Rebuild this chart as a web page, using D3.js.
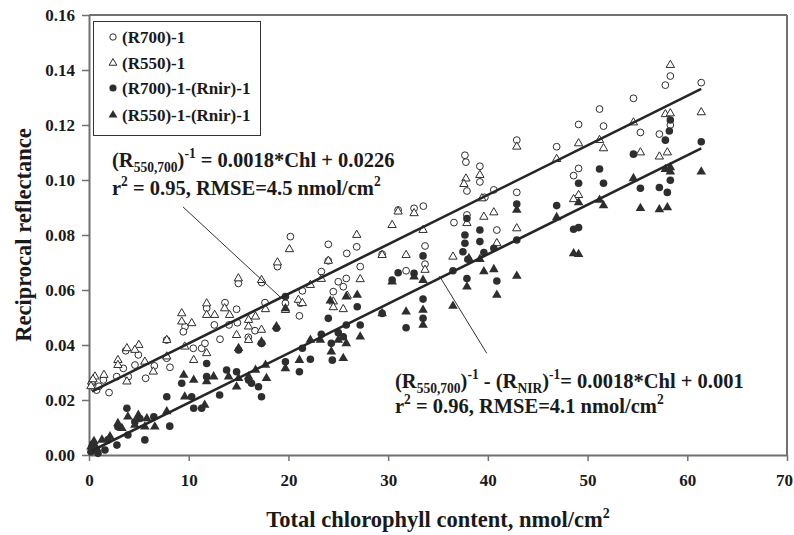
<!DOCTYPE html>
<html><head><meta charset="utf-8">
<script src="https://cdn.jsdelivr.net/npm/d3@7"></script>
<style>
body{margin:0;background:#fff;}
svg{display:block;}
text{font-family:"Liberation Serif","Times New Roman",serif;font-weight:bold;fill:#1a1a1a;}
</style></head><body>
<svg id="chart" width="794" height="535"></svg>
<script>
// ---- data (Chl nmol/cm2, reciprocal reflectance) ----
const r700 = [[14.98,0.0624],[17.32,0.0627],[13.64,0.0554],[14.8,0.0530],[12.57,0.0473],[9.63,0.0467],[9.46,0.0448],[10.46,0.0388],[11.3,0.0388],[13.14,0.0421],[14.04,0.0473],[14.88,0.0481],[16.65,0.0452],[15.98,0.0428],[17.32,0.0406],[17.65,0.0554],[7.79,0.0418],[7.79,0.0352],[8.12,0.0319],[4.95,0.0364],[4.61,0.0327],[5.68,0.0279],[6.55,0.0324],[3.68,0.0379],[2.01,0.0227],[0.77,0.0236],[0.27,0.0255],[1.44,0.0273],[2.78,0.0285],[3.94,0.0285],[3.44,0.0315],[11.63,0.0406],[18.9,0.0685],[11.8,0.0534],[0.5,0.0245],[0.3,0.0262],[1.0,0.0250],
[33.53,0.0905],[32.6,0.0897],[31.0,0.0891],[20.2,0.0794],[24.0,0.0766],[26.85,0.0757],[25.85,0.0733],[27.2,0.0685],[24.0,0.0706],[23.3,0.0667],[21.4,0.0597],[25.0,0.0630],[25.5,0.0612],[24.5,0.0594],[25.8,0.0642],[21.2,0.0552],[21.1,0.0506],[19.7,0.0552],[29.4,0.0730],[31.8,0.0670],[33.7,0.0694],[33.7,0.0760],[36.6,0.0845],[37.9,0.0873],[37.7,0.1090],[37.8,0.1065],[37.9,0.0960],
[58.3,0.1378],[57.8,0.1345],[61.4,0.1354],[54.6,0.1297],[51.2,0.1258],[49.1,0.1202],[51.6,0.1196],[42.9,0.1145],[46.9,0.1121],[55.3,0.1173],[57.2,0.1167],[58.3,0.1200],[39.2,0.1050],[39.2,0.0993],[39.7,0.0937],[40.6,0.0964],[42.9,0.0955],[49.1,0.1042],[48.6,0.1016],[40.9,0.0818]];
const r550 = [[11.8,0.0551],[11.8,0.0509],[9.3,0.0515],[9.3,0.0485],[10.3,0.0479],[13.6,0.0533],[12.6,0.0509],[14.1,0.0509],[16.0,0.0491],[16.7,0.0503],[16.0,0.0467],[17.3,0.0455],[17.7,0.0530],[7.8,0.0418],[7.8,0.0358],[5.0,0.0400],[4.6,0.0382],[3.8,0.0388],[2.9,0.0345],[2.9,0.0327],[5.6,0.0339],[6.45,0.0303],[1.5,0.0291],[0.6,0.0285],[0.27,0.0267],[3.8,0.0267],[9.6,0.0394],[10.5,0.0345],[11.8,0.0370],[14.8,0.0436],[16.0,0.0418],[18.9,0.0700],[14.98,0.0642],[17.3,0.0636],[0.4,0.0275],[0.2,0.0250],
[20.1,0.0748],[26.85,0.0800],[31.0,0.0885],[32.6,0.0879],[30.4,0.0836],[33.5,0.0818],[24.0,0.0706],[23.3,0.0640],[22.2,0.0618],[21.0,0.0564],[21.4,0.0552],[24.5,0.0558],[27.2,0.0639],[25.9,0.0579],[25.5,0.0530],[24.5,0.0537],[29.4,0.0727],[31.8,0.0727],[33.7,0.0673],[36.5,0.0721],[37.9,0.0843],[19.7,0.0527],[37.8,0.1005],[37.6,0.0985],
[58.3,0.1418],[42.9,0.1121],[57.8,0.1239],[58.3,0.1242],[61.4,0.1246],[54.6,0.1209],[49.1,0.1133],[51.2,0.1145],[51.6,0.1115],[46.9,0.1076],[55.3,0.1100],[57.2,0.1085],[58.0,0.1100],[49.1,0.0945],[48.6,0.0930],[39.6,0.0866],[40.6,0.0882],[42.9,0.0824],[39.4,0.0933],[40.9,0.0770],[39.2,0.1018]];
const r700nir = [[18.8,0.0461],[15.0,0.0382],[17.3,0.0406],[11.8,0.0333],[13.8,0.0309],[14.8,0.0303],[16.0,0.0273],[16.3,0.0261],[17.0,0.0248],[17.3,0.0212],[9.3,0.0261],[11.8,0.0285],[10.3,0.0212],[13.1,0.0218],[11.3,0.0170],[10.5,0.0170],[7.8,0.0212],[3.8,0.0170],[4.6,0.0121],[5.1,0.0133],[6.5,0.0139],[8.1,0.0105],[5.6,0.0055],[2.9,0.0103],[3.9,0.0073],[1.9,0.0055],[2.8,0.0036],[0.3,0.0030],[0.6,0.0018],[0.9,0.0006],[1.6,0.0018],[0.2,0.0012],[0.4,0.0040],[0.5,0.0025],
[19.7,0.0576],[26.9,0.0539],[24.0,0.0497],[25.8,0.0473],[27.2,0.0473],[25.0,0.0445],[25.5,0.0430],[23.3,0.0439],[24.3,0.0406],[21.4,0.0388],[22.2,0.0348],[21.1,0.0303],[19.7,0.0339],[24.4,0.0345],[29.4,0.0515],[30.4,0.0636],[31.0,0.0663],[32.6,0.0661],[33.5,0.0724],[33.5,0.0567],[33.5,0.0497],[31.8,0.0463],[36.5,0.0670],[37.7,0.0800],[37.7,0.0770],[37.9,0.0642],[38.0,0.0712],[37.5,0.0739],[37.9,0.0860],
[61.4,0.1139],[57.8,0.1145],[58.2,0.1178],[58.3,0.1218],[54.6,0.1094],[55.3,0.0970],[57.2,0.0973],[58.0,0.0955],[58.3,0.0999],[51.2,0.1040],[51.6,0.0988],[49.1,0.0988],[46.9,0.0907],[42.9,0.0913],[42.9,0.0782],[48.6,0.0821],[49.1,0.0827],[40.9,0.0633],[40.6,0.0752],[39.6,0.0736],[39.2,0.0818],[39.2,0.0776]];
const r550nir = [[15.0,0.0388],[17.3,0.0412],[18.8,0.0467],[9.5,0.0291],[10.5,0.0273],[11.8,0.0267],[12.5,0.0285],[14.0,0.0285],[15.0,0.0279],[14.8,0.0248],[16.0,0.0285],[16.7,0.0309],[17.7,0.0327],[17.8,0.0279],[9.6,0.0212],[11.6,0.0182],[7.8,0.0158],[4.95,0.0145],[5.8,0.0133],[5.6,0.0103],[6.6,0.0103],[2.9,0.0115],[3.3,0.0097],[2.1,0.0067],[1.3,0.0055],[0.4,0.0042],[0.27,0.0018],[0.77,0.0024],[3.9,0.0139],[4.6,0.0109],[0.5,0.0050],[0.2,0.0030],
[19.7,0.0533],[24.2,0.0561],[26.9,0.0582],[25.8,0.0576],[27.2,0.0430],[25.8,0.0406],[25.0,0.0418],[23.2,0.0418],[25.5,0.0352],[24.3,0.0376],[21.1,0.0345],[19.7,0.0315],[22.2,0.0418],[29.4,0.0515],[30.4,0.0630],[31.8,0.0521],[33.5,0.0527],[33.5,0.0473],[33.5,0.0636],[32.6,0.0648],[36.5,0.0542],[37.9,0.0612],[38.1,0.0715],
[61.4,0.1030],[57.8,0.1039],[58.3,0.1046],[58.3,0.1030],[54.6,0.1006],[55.3,0.0897],[57.2,0.0893],[58.0,0.0900],[51.2,0.0927],[51.6,0.0907],[49.1,0.0918],[46.9,0.0864],[42.9,0.0891],[42.9,0.0651],[48.6,0.0733],[49.1,0.0730],[40.9,0.0582],[40.6,0.0675],[39.6,0.0667],[39.2,0.0712]];

const xTicks = [0,10,20,30,40,50,60,70];
const yTicks = [0,0.02,0.04,0.06,0.08,0.10,0.12,0.14,0.16];
const legendLabels = ["(R700)-1","(R550)-1","(R700)-1-(Rnir)-1","(R550)-1-(Rnir)-1"];
const fitSlopes = [0.0018, 0.0018];
const fitIntercepts = [0.0226, 0.001];
const fitRange = [0.3, 61.4];
// leader lines (data units): [x1,y1,x2,y2]
const leaders = [[9.43,0.0902,19.16,0.0575],[35.14,0.0651,39.89,0.0370]];

// ---- chart ----
const svg = d3.select("#chart");
const x = d3.scaleLinear().domain([0,70]).range([89,787]);
const y = d3.scaleLinear().domain([0,0.16]).range([455,15]);
const axisColor = "#707070";
const ink = "#2e2e2e";

// frame top & right
svg.append("line").attr("x1",x(0)).attr("x2",x(70)).attr("y1",y(0.16)).attr("y2",y(0.16)).attr("stroke",axisColor).attr("stroke-width",2);
svg.append("line").attr("x1",x(70)).attr("x2",x(70)).attr("y1",y(0.16)).attr("y2",y(0)).attr("stroke",axisColor).attr("stroke-width",2);

const gx = svg.append("g").attr("transform",`translate(0,${y(0)})`)
  .call(d3.axisBottom(x).tickValues(xTicks).tickFormat(d3.format("d")).tickSize(6).tickSizeOuter(0).tickPadding(13));
const gy = svg.append("g").attr("transform",`translate(${x(0)},0)`)
  .call(d3.axisLeft(y).tickValues(yTicks).tickFormat(d3.format(".2f")).tickSize(7).tickSizeOuter(0).tickPadding(7));
[gx,gy].forEach(g=>{
  g.select(".domain").attr("stroke",axisColor).attr("stroke-width",2);
  g.selectAll(".tick line").attr("stroke",axisColor).attr("stroke-width",1.5);
  g.selectAll(".tick text").attr("font-size",17).attr("font-family","Liberation Serif").attr("font-weight","bold").attr("fill","#1a1a1a");
});
// keep the last x label inside the page edge
gx.selectAll(".tick text").filter(d=>d===70).attr("dx",-3);

// axis titles
svg.append("text").attr("transform",`translate(31,${(y(0)+y(0.16))/2}) rotate(-90)`)
  .attr("text-anchor","middle").attr("font-size",22.5).text("Reciprocal reflectance");
const xt = svg.append("text").attr("x",(x(0)+x(70))/2).attr("y",527).attr("text-anchor","middle").attr("font-size",22.5);
xt.append("tspan").text("Total chlorophyll content, nmol/cm");
xt.append("tspan").attr("font-size",14).attr("dy",-9).text("2");

// points
const g = svg.append("g");
const tri = d3.symbol(d3.symbolTriangle, 30);
g.selectAll(".oc").data(r700).join("circle").attr("cx",d=>x(d[0])).attr("cy",d=>y(d[1])).attr("r",3.4)
  .attr("fill","#fff").attr("stroke",ink).attr("stroke-width",1);
g.selectAll(".ot").data(r550).join("path").attr("d",tri).attr("transform",d=>`translate(${x(d[0])},${y(d[1])})`)
  .attr("fill","#fff").attr("stroke",ink).attr("stroke-width",1);
g.selectAll(".fc").data(r700nir).join("circle").attr("cx",d=>x(d[0])).attr("cy",d=>y(d[1])).attr("r",3.8)
  .attr("fill",ink);
g.selectAll(".ft").data(r550nir).join("path").attr("d",d3.symbol(d3.symbolTriangle, 40)).attr("transform",d=>`translate(${x(d[0])},${y(d[1])})`)
  .attr("fill",ink);

// regression lines
fitSlopes.forEach((s,i)=>{
  const b = fitIntercepts[i];
  svg.append("path").datum(fitRange.map(v=>[v, s*v+b]))
    .attr("d", d3.line().x(d=>x(d[0])).y(d=>y(d[1])))
    .attr("stroke","#262626").attr("stroke-width",2.6).attr("fill","none");
});
leaders.forEach(l=>{
  svg.append("line").attr("x1",x(l[0])).attr("y1",y(l[1])).attr("x2",x(l[2])).attr("y2",y(l[3]))
    .attr("stroke","#333").attr("stroke-width",1);
});

// annotation helper: segments [text, type] type: n, sub, sup
function rich(xp, yp, segs, fs){
  const t = svg.append("text").attr("x",xp).attr("y",yp).attr("font-size",fs);
  let shift = 0;
  segs.forEach(([s,type])=>{
    const target = type==="sub" ? 5 : type==="sup" ? -9 : 0;
    const ts = t.append("tspan").attr("dy", target-shift).text(s);
    if(type!=="n") ts.attr("font-size", fs*0.66);
    shift = target;
  });
  return t;
}
const AF = 20.5;
rich(112,167,[["(R","n"],["550,700","sub"],[")","n"],["-1","sup"],[" = 0.0018*Chl + 0.0226","n"]],AF);
rich(112,195,[["r","n"],["2","sup"],[" = 0.95, RMSE=4.5 nmol/cm","n"],["2","sup"]],AF);
rich(395,388,[["(R","n"],["550,700","sub"],[")","n"],["-1","sup"],[" - (R","n"],["NIR","sub"],[")","n"],["-1","sup"],["= 0.0018*Chl + 0.001","n"]],AF);
rich(395,413,[["r","n"],["2","sup"],[" = 0.96, RMSE=4.1 nmol/cm","n"],["2","sup"]],AF);

// legend
svg.append("rect").attr("x",93.5).attr("y",21.5).attr("width",167).attr("height",114)
  .attr("fill","#fff").attr("stroke","#333").attr("stroke-width",1);
const ly = [37,63,88,115];
legendLabels.forEach((lab,i)=>{
  const cx = 113, cy = ly[i];
  if(i===0) svg.append("circle").attr("cx",cx).attr("cy",cy).attr("r",3.2).attr("fill","#fff").attr("stroke",ink);
  if(i===1) svg.append("path").attr("d",d3.symbol(d3.symbolTriangle,26)).attr("transform",`translate(${cx},${cy})`).attr("fill","#fff").attr("stroke",ink);
  if(i===2) svg.append("circle").attr("cx",cx).attr("cy",cy).attr("r",3.6).attr("fill",ink);
  if(i===3) svg.append("path").attr("d",d3.symbol(d3.symbolTriangle,34)).attr("transform",`translate(${cx},${cy})`).attr("fill",ink);
  svg.append("text").attr("x",122).attr("y",cy+6).attr("font-size",17).text(lab);
});
</script></body></html>
